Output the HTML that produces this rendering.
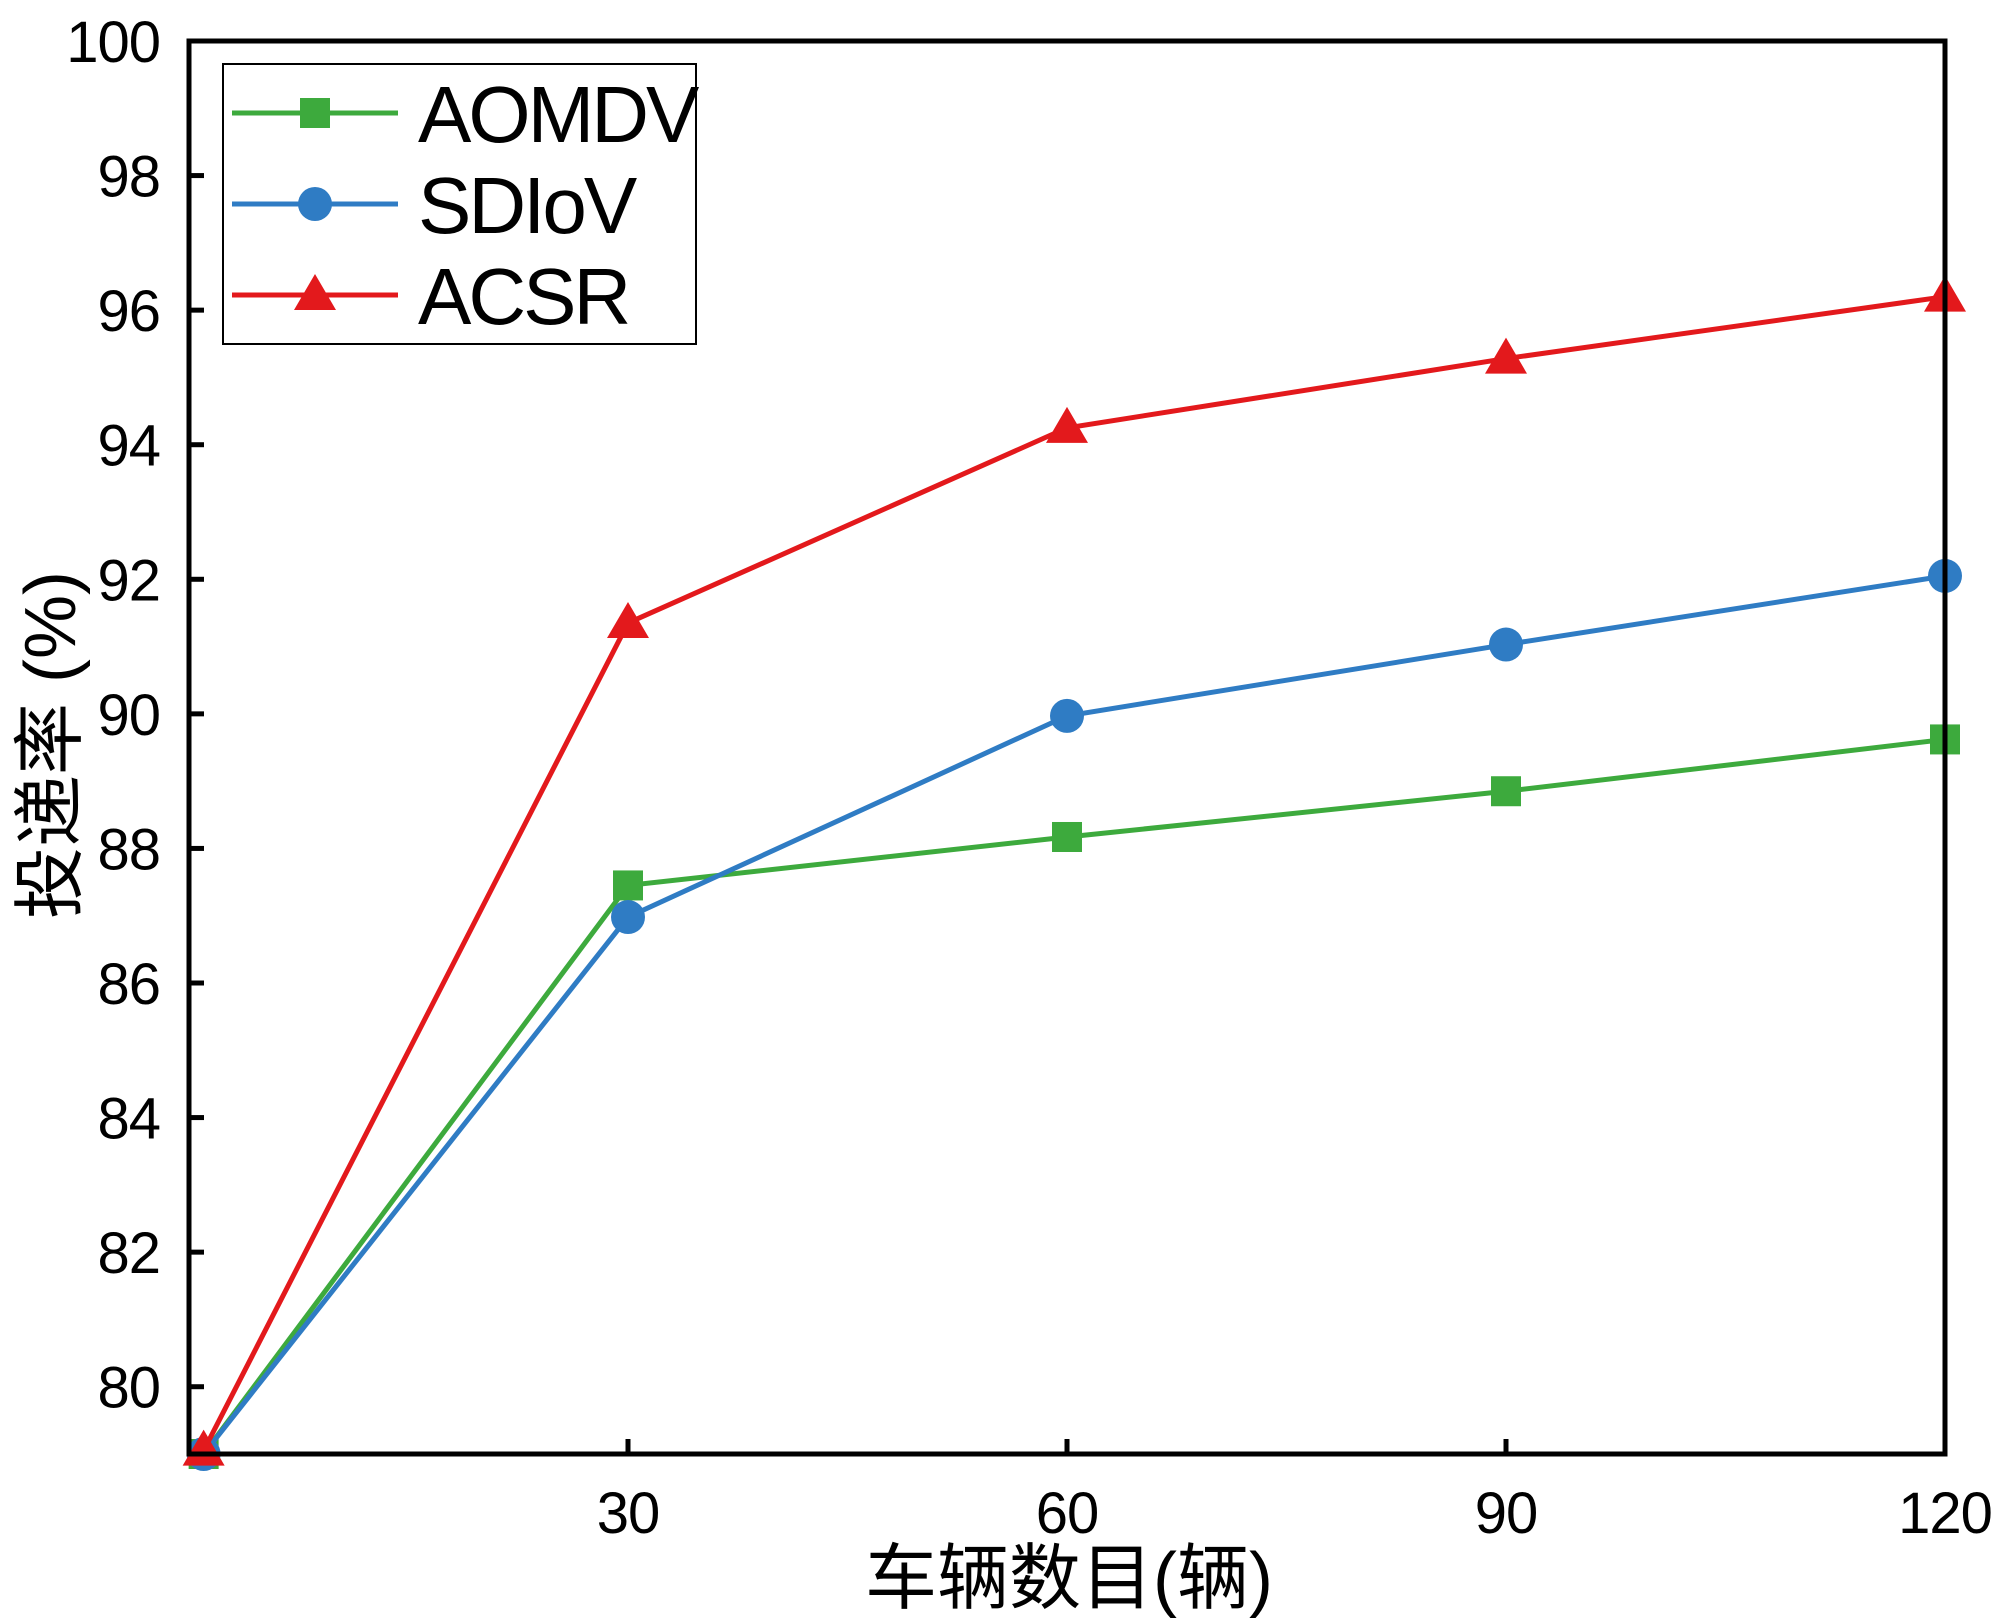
<!DOCTYPE html>
<html><head><meta charset="utf-8"><style>
html,body{margin:0;padding:0;background:#fff;}
svg{display:block;font-family:"Liberation Sans","Noto Sans CJK SC",sans-serif;}
</style></head><body>
<svg id="chart" width="2000" height="1620" viewBox="0 0 2000 1620"></svg>
<script>
const categories=[1,30,60,90,120];
const aomdv=[79.0,87.45,88.17,88.85,89.62];
const sdiov=[79.0,86.98,89.97,91.03,92.05];
const acsr=[79.05,91.35,94.25,95.28,96.2];
const xTicks=[30,60,90,120];
const yTicks=[80,82,84,86,88,90,92,94,96,98,100];
const seriesNames=["AOMDV","SDIoV","ACSR"];

const L=189,R=1945,T=41,B=1454;
const xMin=0,xMax=120,yMin=79.0,yMax=100;
const xs=v=>L+(v-xMin)/(xMax-xMin)*(R-L);
const ys=v=>B-(v-yMin)/(yMax-yMin)*(B-T);
const NS="http://www.w3.org/2000/svg";
const svg=document.getElementById('chart');
function mk(tag,attrs,parent){const e=document.createElementNS(NS,tag);for(const k in attrs)e.setAttribute(k,attrs[k]);(parent||svg).appendChild(e);return e;}

yTicks.forEach(v=>{
  const t=mk('line',{x1:L,x2:L+15,y1:ys(v),y2:ys(v),stroke:'#000','stroke-width':5});
  
  
  const lb=mk('text',{x:160,y:ys(v)+21,'text-anchor':'end','font-size':58,'letter-spacing':-1,fill:'#000'});
  lb.textContent=v;
  
  
});
xTicks.forEach(v=>{
  const t=mk('line',{x1:xs(v),x2:xs(v),y1:B,y2:B-15,stroke:'#000','stroke-width':5});
  
  
  const lb=mk('text',{x:xs(v),y:1533,'text-anchor':'middle','font-size':58,'letter-spacing':-1,fill:'#000'});
  lb.textContent=v;
  
  
});

function marker(type,x,y,color,g){
  let m;
  if(type==='square') m=mk('rect',{x:x-15,y:y-15,width:30,height:30,fill:color},g);
  else if(type==='circle') m=mk('circle',{cx:x,cy:y,r:17,fill:color},g);
  else m=mk('polygon',{points:`${x},${y-21} ${x-21},${y+15} ${x+21},${y+15}`,fill:color},g);
  return m;
}
const series=[[aomdv,'#3daa3d','square','series-aomdv'],[sdiov,'#2f7cc4','circle','series-sdiov'],[acsr,'#e3191c','triangle','series-acsr']];
series.forEach(([data,color,type,name])=>{
  const g=mk('g',{});
  
  
  const pts=data.map((v,i)=>xs(categories[i])+','+ys(v)).join(' ');
  const pl=mk('polyline',{points:pts,fill:'none',stroke:color,'stroke-width':5},g);
  
  
  data.forEach((v,i)=>{
    const m=marker(type,xs(categories[i]),ys(v),color,g);
    
    
  });
});

const fr=mk('rect',{x:L,y:T,width:R-L,height:B-T,fill:'none',stroke:'#000','stroke-width':5});



const lg=mk('g',{});


const lr=mk('rect',{x:223,y:64,width:473,height:280,fill:'#fff',stroke:'#000','stroke-width':2},lg);


series.forEach(([data,color,type,name],i)=>{
  const y=113+i*91;
  const e=mk('g',{},lg);
  
  
  mk('line',{x1:232,x2:398,y1:y,y2:y,stroke:color,'stroke-width':5},e);
  marker(type,315,y,color,e);
  const t=mk('text',{x:418,y:y+29,'font-size':80,'letter-spacing':-3,fill:'#000'},e);
  t.textContent=seriesNames[i];
});

const yt=mk('text',{x:0,y:0,'text-anchor':'middle','font-size':72,fill:'#000',transform:'translate(75,745) rotate(-90)'});
yt.textContent='投递率 (%)';


const xt=mk('text',{x:1069,y:1603,'text-anchor':'middle','font-size':72,fill:'#000'});
xt.textContent='车辆数目(辆)';


</script>
</body></html>
